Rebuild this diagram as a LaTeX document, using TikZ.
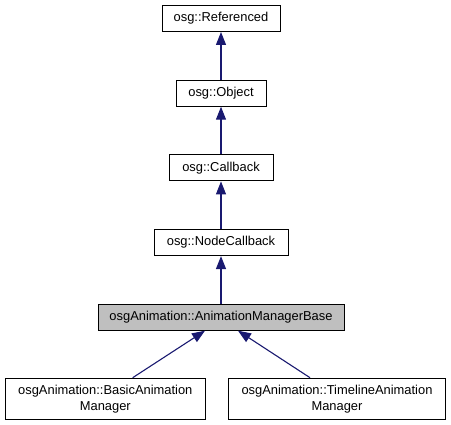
\documentclass[tikz,border=0pt]{standalone}
\usepackage{fontspec}
\setmainfont{Liberation Sans}
\usetikzlibrary{arrows.meta}
\definecolor{edgeblue}{HTML}{191970}
\definecolor{basegray}{HTML}{BFBFBF}
\tikzset{
  cls/.style={draw=black, line width=1pt, fill=white, inner sep=0pt, align=center,
    font=\fontsize{12.9}{16}\selectfont},
  inh/.style={draw=edgeblue, line width=1.1pt, -{Triangle[length=13pt,width=10pt]}, color=edgeblue}
}
\begin{document}
\begin{tikzpicture}[x=1pt,y=-1pt]
\useasboundingbox (0,0) rectangle (451,425);
\node[cls, minimum width=118pt, minimum height=26pt] (ref) at (221,18.5) {osg::Referenced};
\node[cls, minimum width=90pt, minimum height=26pt] (obj) at (221,93.2) {osg::Object};
\node[cls, minimum width=104pt, minimum height=26pt] (cb) at (221,167.9) {osg::Callback};
\node[cls, minimum width=134pt, minimum height=26pt] (ncb) at (221,242.6) {osg::NodeCallback};
\node[cls, fill=basegray, minimum width=246pt, minimum height=26pt] (base) at (221,317.2) {osgAnimation::AnimationManagerBase};
\node[cls, minimum width=200.5pt, minimum height=41pt] (basic) at (105.3,398.7) {osgAnimation::BasicAnimation\\Manager};
\node[cls, minimum width=216.5pt, minimum height=41pt] (tl) at (337,398.7) {osgAnimation::TimelineAnimation\\Manager};
\draw[inh] (obj) -- (ref);
\draw[inh] (cb) -- (obj);
\draw[inh] (ncb) -- (cb);
\draw[inh] (base) -- (ncb);
\draw[inh] ([xshift=27.4pt]basic.north) -- ([xshift=-16pt]base.south);
\draw[inh] ([xshift=-27pt]tl.north) -- ([xshift=17pt]base.south);
\end{tikzpicture}
\end{document}
